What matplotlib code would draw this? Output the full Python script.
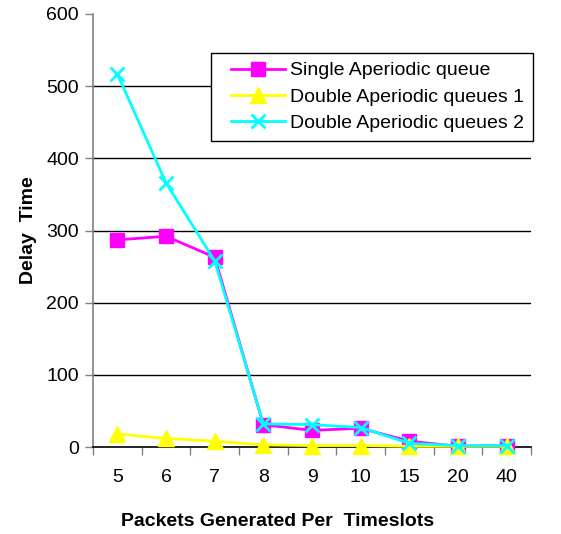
import matplotlib
matplotlib.use("Agg")
import matplotlib.pyplot as plt
from matplotlib.legend_handler import HandlerLine2D
import numpy as np

plt.rcParams['font.family'] = ['Liberation Sans', 'DejaVu Sans']

categories = ["5", "6", "7", "8", "9", "10", "15", "20", "40"]
single = [287, 292, 263, 31, 23, 26, 8, 1, 2]
double1 = [18, 12, 8, 3, 2, 2, 1, 1, 1]
double2 = [517, 366, 258, 32, 31, 27, 5, 2, 2]
series_names = ["Single Aperiodic queue", "Double Aperiodic queues 1", "Double Aperiodic queues 2"]
yticks = [0, 100, 200, 300, 400, 500, 600]

fig = plt.figure(figsize=(5.61, 5.34), dpi=100)
ax = fig.add_axes([93/561, (534-447)/534, (531-93)/561, (447-14)/534])

x = np.arange(len(categories))
for yv in yticks[1:-1]:
    ax.axhline(yv, color='black', lw=1.0, zorder=1)

l1, = ax.plot(x, single, color='#FF00FF', lw=2, marker='s', ms=10, mec='#FF00FF', mfc='#FF00FF', label=series_names[0], zorder=3, clip_on=False)
l2, = ax.plot(x, double1, color='#FFFF00', lw=2, marker='^', ms=11, mec='#FFFF00', mfc='#FFFF00', label=series_names[1], zorder=4, clip_on=False)
l3, = ax.plot(x, double2, color='#00FFFF', lw=2, marker='x', ms=10, mew=2, mec='#00FFFF', label=series_names[2], zorder=5, clip_on=False)

ax.set_xlim(-0.5, len(categories) - 0.5)
ax.set_ylim(0, 600)
ax.set_yticks(yticks)
ax.set_xticks(x)
ax.set_xticklabels(categories)
ax.set_xticks(np.arange(len(categories) + 1) - 0.5, minor=True)
ax.tick_params(axis='x', which='major', length=0, pad=16, labelsize=14)
ax.tick_params(axis='x', which='minor', length=6, width=1, color='#808080', direction='out')
ax.tick_params(axis='y', length=6, width=1, color='#808080', direction='out', labelsize=14, pad=4)

for s in ['top', 'right']:
    ax.spines[s].set_visible(False)
for s in ['left', 'bottom']:
    ax.spines[s].set_color('#808080')
    ax.spines[s].set_linewidth(1.2)
ax.spines['bottom'].set_color('black')

ax.set_xlabel("Packets Generated Per  Timeslots", fontsize=14, fontweight='bold')
ax.xaxis.set_label_coords((277.5 - 93) / 438, -(521 - 447) / 433, transform=ax.transAxes)
ax.xaxis.label.set_va('center')
ax.set_ylabel("Delay  Time", fontsize=14, fontweight='bold', labelpad=7)

hmap = {l: HandlerLine2D(xpad=0.58) for l in (l1, l2, l3)}
leg = ax.legend(loc='upper left', bbox_to_anchor=((211-93)/(531-93), (447-53)/(447-14)),
                frameon=True, fancybox=False, edgecolor='black', framealpha=1,
                fontsize=14, borderpad=0.45, labelspacing=0.45, handlelength=3.37,
                handletextpad=0.25, borderaxespad=0, handler_map=hmap)
leg.get_frame().set_linewidth(1.0)
leg.set_zorder(10)

fig.savefig("out.png", dpi=100)
